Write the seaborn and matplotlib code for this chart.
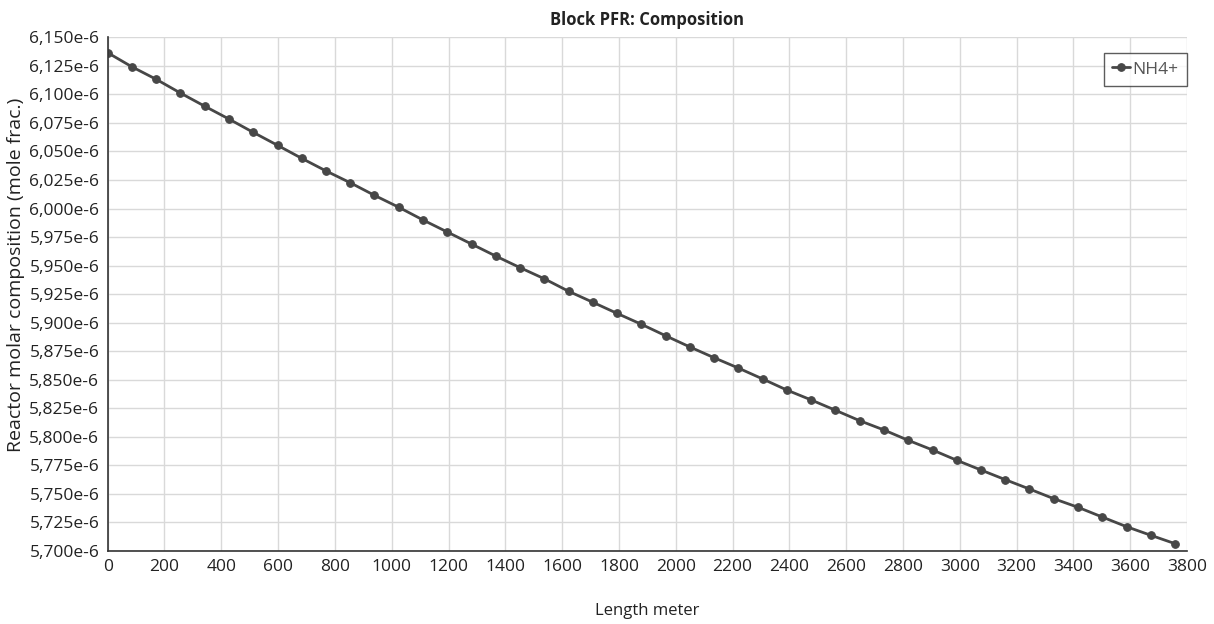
import matplotlib
matplotlib.use("Agg")
import matplotlib.pyplot as plt
import matplotlib.ticker as mticker
import numpy as np
import pandas as pd
import seaborn as sns

# Reactor length positions (m)
length_m = [0, 85, 171, 256, 342, 427, 512, 598, 683, 769, 854, 939, 1025, 1110,
            1196, 1281, 1366, 1452, 1537, 1623, 1708, 1793, 1879, 1964, 2050, 2135,
            2220, 2306, 2391, 2477, 2562, 2647, 2733, 2818, 2904, 2989, 3074, 3160,
            3245, 3331, 3416, 3501, 3587, 3672, 3758]

# NH4+ mole fraction along the reactor (x 1e-6)
nh4_e6 = [6.1365, 6.1242, 6.1132, 6.1012, 6.0896, 6.0784, 6.0668, 6.0554, 6.0440,
          6.0329, 6.0226, 6.0116, 6.0011, 5.9900, 5.9794, 5.9689, 5.9584, 5.9482,
          5.9385, 5.9275, 5.9179, 5.9082, 5.8986, 5.8886, 5.8787, 5.8693, 5.8603,
          5.8507, 5.8410, 5.8323, 5.8233, 5.8142, 5.8060, 5.7970, 5.7885, 5.7795,
          5.7710, 5.7625, 5.7543, 5.7458, 5.7383, 5.7298, 5.7213, 5.7138, 5.7064]

component = "NH4+"
title = "Block PFR: Composition"
x_label = "Length meter"
y_label = "Reactor molar composition (mole frac.)"

df = pd.DataFrame({
    "length": length_m,
    "frac": np.array(nh4_e6) * 1e-6,
    "component": component,
})

sns.set_style("white")
plt.rcParams["font.family"] = ["Open Sans", "DejaVu Sans"]

fig = plt.figure(figsize=(12.14, 6.24), dpi=100)
ax = fig.add_axes([0.0887, 0.117, 0.8891, 0.8232])

sns.lineplot(data=df, x="length", y="frac", hue="component",
             palette=["#474747"], marker="o", markersize=5.5,
             markeredgecolor="#474747", linewidth=2.0, ax=ax)

ax.set_xlim(0, 3800)
ax.set_ylim(5.700e-6, 6.150e-6)
ax.xaxis.set_major_locator(mticker.MultipleLocator(200))
ax.yaxis.set_major_locator(mticker.MultipleLocator(0.025e-6))
ax.yaxis.set_major_formatter(mticker.FuncFormatter(
    lambda v, _: f"{v * 1e6:.3f}".replace(".", ",") + "e-6"))

ax.grid(True, color="#d9d9d9", linewidth=1.0)
ax.set_axisbelow(True)
for side in ("top", "right"):
    ax.spines[side].set_visible(False)
for side in ("left", "bottom"):
    ax.spines[side].set_color("#333333")
    ax.spines[side].set_linewidth(1.2)

ax.tick_params(axis="both", direction="out", length=4, width=1,
               color="#555555", labelsize=12.5, labelcolor="#222222", pad=2)

ax.set_xlabel(x_label, fontsize=12, color="#222222", labelpad=20)
ax.set_ylabel(y_label, fontsize=14, color="#222222")
ax.yaxis.set_label_coords(-0.077, 0.537)
ax.set_title(title, fontsize=12, fontweight="bold", color="#222222", pad=9)

leg = ax.legend(loc="upper right", bbox_to_anchor=(1.0, 0.97), frameon=True,
                fancybox=False, fontsize=12.5, handlelength=1.0,
                handletextpad=0.15, borderpad=0.5, borderaxespad=0.0)
leg.get_frame().set_edgecolor("#333333")
leg.get_frame().set_linewidth(1.0)
for t in leg.get_texts():
    t.set_color("#555555")

fig.savefig("out.png", dpi=100)
